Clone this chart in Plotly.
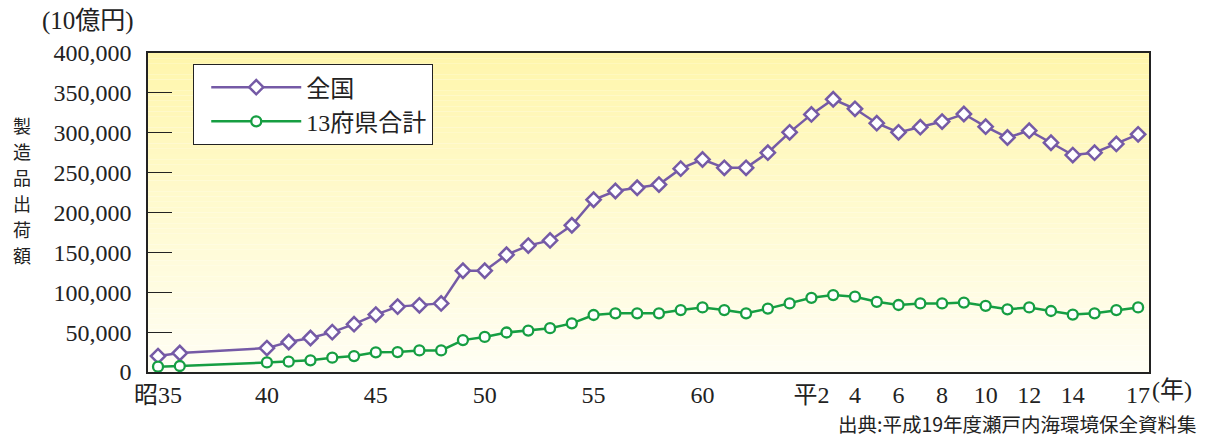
import plotly.graph_objects as go

# 年次（西暦）: 昭和35・36年, 昭和40年〜平成17年
years = [1960, 1961] + list(range(1965, 2006))

# 製造品出荷額（10億円）
national = [20000, 23800, 30000, 37600, 42600, 50000, 60000, 72000, 82000, 83600,
            86000, 127000, 127000, 147000, 158500, 165000, 184000, 216000, 227000,
            231000, 235000, 255000, 266500, 256000, 256000, 275000, 300500, 323000,
            342000, 330000, 312000, 300500, 307000, 314000, 323500, 307600, 294000,
            302600, 287500, 272000, 275000, 286000, 298000]
prefectures13 = [6700, 7500, 12000, 13000, 14600, 18000, 20000, 24700, 25000, 27000,
                 27000, 40000, 44000, 49500, 52000, 55000, 61000, 71500, 73600,
                 73600, 73600, 77700, 81000, 77700, 73600, 79500, 86000, 93000,
                 96500, 94400, 88000, 84000, 86000, 86000, 87000, 83000, 78600,
                 81000, 76500, 72000, 73600, 77700, 81000]

tick_years = [1960, 1965, 1970, 1975, 1980, 1985, 1990, 1992, 1994, 1996, 1998, 2000, 2002, 2005]
tick_labels = ["昭35", "40", "45", "50", "55", "60", "平2", "4", "6", "8", "10", "12", "14", "17"]

SERIF = "Liberation Serif, Noto Sans CJK JP, serif"
SANS = "Noto Sans CJK JP, sans-serif"
PURPLE = "rgb(117,90,166)"
GREEN = "rgb(22,158,66)"

fig = go.Figure()
fig.add_trace(go.Scatter(
    x=years, y=national, name="全国", mode="lines+markers",
    line=dict(color=PURPLE, width=2.5),
    marker=dict(symbol="diamond", size=11, color="white",
                line=dict(color=PURPLE, width=2.5)),
))
fig.add_trace(go.Scatter(
    x=years, y=prefectures13, name="13府県合計", mode="lines+markers",
    line=dict(color=GREEN, width=2.5),
    marker=dict(symbol="circle", size=10, color="white",
                line=dict(color=GREEN, width=2.3)),
))

# yellow-to-white vertical gradient behind the plot area
n = 60
top = (255, 246, 172)
bot = (255, 254, 244)
shapes = []
for i in range(n):
    t = i / (n - 1)
    c = tuple(round(top[k] + (bot[k] - top[k]) * t) for k in range(3))
    shapes.append(dict(
        type="rect", xref="x domain", yref="y domain",
        x0=0, x1=1, y0=1 - (i + 1) / n, y1=1 - i / n,
        fillcolor="rgb(%d,%d,%d)" % c, line=dict(width=0), layer="below",
    ))

annotations = [
    dict(text="(10億円)", xref="paper", yref="paper", x=-0.108, y=1.1,
         xanchor="left", yanchor="middle", showarrow=False,
         font=dict(family=SERIF, size=25, color="#222")),
    dict(text="(年)", xref="paper", yref="paper", x=1.001, y=-0.057,
         xanchor="left", yanchor="middle", showarrow=False,
         font=dict(family=SERIF, size=24, color="#222")),
    dict(text="出典:平成19年度瀬戸内海環境保全資料集", xref="paper", yref="paper",
         x=(1198 - 148) / 1001, y=-(439 - 372) / 319, xanchor="right", yanchor="bottom",
         showarrow=False, borderpad=0,
         font=dict(family=SANS, size=19.5, color="#222")),
]
# vertical axis title, one character per row
for i, ch in enumerate("製造品出荷額"):
    ypx = 125 + i * 26
    annotations.append(dict(
        text=ch, xref="paper", yref="paper",
        x=(22 - 148) / 1001, y=1 - (ypx - 53) / 319,
        xanchor="center", yanchor="middle", showarrow=False, borderpad=0,
        font=dict(family=SANS, size=18, color="#222"),
    ))

fig.update_layout(
    width=1208, height=440,
    margin=dict(l=148, r=59, t=53, b=68),
    paper_bgcolor="white", plot_bgcolor="rgba(0,0,0,0)",
    showlegend=True,
    legend=dict(
        x=0.045, y=0.966, xanchor="left", yanchor="top",
        bgcolor="white", bordercolor="#222", borderwidth=1.2,
        font=dict(family=SERIF, size=24, color="#222"),
        itemwidth=90, indentation=12, tracegroupgap=0,
    ),
    shapes=shapes,
    annotations=annotations,
    xaxis=dict(
        range=[1959.54, 2005.5], tickvals=tick_years, ticktext=tick_labels,
        ticks="", showgrid=False, zeroline=False,
        showline=True, linecolor="#222", linewidth=1.5, mirror=True,
        tickfont=dict(family=SERIF, size=24, color="#222"),
    ),
    yaxis=dict(
        range=[0, 400000], tickvals=list(range(0, 400001, 50000)),
        tickformat=",d", ticks="inside", ticklen=24, tickwidth=1.2, tickcolor="#222",
        ticklabelstandoff=10,
        showgrid=False, zeroline=False,
        showline=True, linecolor="#222", linewidth=1.5, mirror=True,
        tickfont=dict(family=SERIF, size=24, color="#222"),
    ),
)

fig.write_html("out.html")
